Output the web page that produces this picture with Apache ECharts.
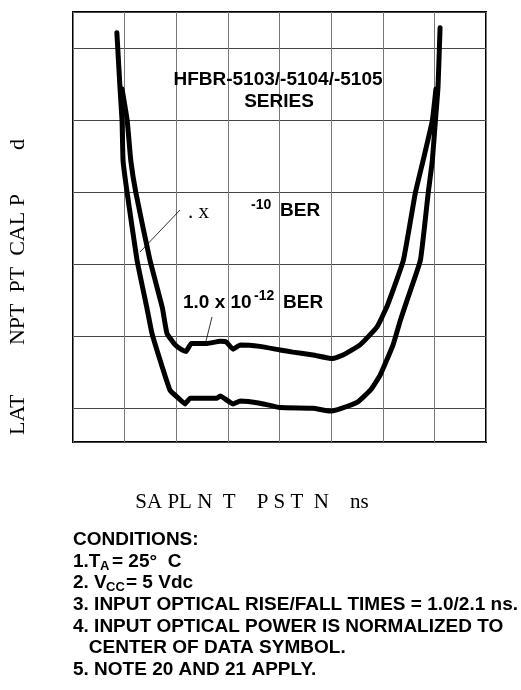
<!DOCTYPE html>
<html>
<head>
<meta charset="utf-8">
<title>HFBR-5103 sampling time</title>
<script src="https://cdn.jsdelivr.net/npm/echarts@6/dist/echarts.min.js"></script>
<style>
  html, body { margin: 0; padding: 0; background: #fff; }
  #chart { width: 521px; height: 690px; }
</style>
</head>
<body>
<div id="chart"></div>
<script>
// sampling time position (grid units), relative optical power (dB, grid units)
var ber10X = [0.85, 0.91, 0.95, 0.97, 1.05, 1.24, 1.43, 1.53, 1.73, 1.88, 2.04, 2.17, 2.27, 2.56, 2.79, 2.85, 3.10, 3.24, 3.62, 4.01, 4.65, 4.98, 5.17, 5.50, 5.76, 5.95, 6.20, 6.34, 6.47, 6.73, 6.88, 6.96, 7.02, 7.07, 7.11];
var ber10Y = [5.22, 4.46, 4.00, 3.44, 2.99, 2.06, 1.40, 1.04, 0.57, 0.25, 0.14, 0.06, 0.14, 0.14, 0.14, 0.17, 0.06, 0.10, 0.07, 0.01, 0.00, -0.04, -0.01, 0.08, 0.25, 0.46, 0.88, 1.22, 1.50, 2.06, 2.99, 3.44, 4.00, 4.46, 5.29];

var ber12X = [0.95, 1.05, 1.12, 1.22, 1.49, 1.73, 1.82, 1.98, 2.11, 2.19, 2.29, 2.60, 2.85, 2.97, 3.10, 3.24, 3.62, 4.01, 4.26, 4.65, 5.02, 5.23, 5.56, 5.89, 6.09, 6.40, 6.63, 6.78, 6.96, 7.03];
var ber12Y = [4.44, 4.00, 3.44, 2.99, 2.06, 1.40, 1.04, 0.88, 0.81, 0.79, 0.90, 0.90, 0.93, 0.92, 0.82, 0.88, 0.86, 0.81, 0.78, 0.74, 0.69, 0.74, 0.88, 1.13, 1.43, 2.06, 2.99, 3.44, 4.00, 4.44];

var xTitle = 'SA PL N  T    P S T  N    ns';
var yTitle = 'LAT         NPT  PT  CAL P        d';
var conditions = [
  'CONDITIONS:',
  '',
  '',
  '3. INPUT OPTICAL RISE/FALL TIMES = 1.0/2.1 ns.',
  '4. INPUT OPTICAL POWER IS NORMALIZED TO',
  '   CENTER OF DATA SYMBOL.',
  '5. NOTE 20 AND 21 APPLY.'
];

function pairs(xs, ys) {
  return xs.map(function (x, i) { return [x, ys[i]]; });
}

var chart = echarts.init(document.getElementById('chart'));

var sans = 'Liberation Sans, Arial, sans-serif';
var serif = 'Liberation Serif, Times New Roman, serif';
var bold = { fontFamily: sans, fontWeight: 'bold', fill: '#000' };

function txt(x, y, s, size, extra) {
  var style = Object.assign({ text: s, x: x, y: y, fontSize: size, verticalAlign: 'middle', align: 'left' }, bold, extra || {});
  return { type: 'text', style: style, z: 10 };
}

var graphics = [
  txt(278, 80, 'HFBR-5103/-5104/-5105', 19, { align: 'center' }),
  txt(279, 102, 'SERIES', 19, { align: 'center' }),
  txt(188, 212, '. x', 21, { fontFamily: serif, fontWeight: 'normal' }),
  txt(251, 205, '-10', 14),
  txt(280, 211, 'BER', 19),
  txt(183, 303, '1.0 x 10', 19),
  txt(254, 296, '-12', 14),
  txt(283, 303, 'BER', 19),
  { type: 'line', shape: { x1: 180, y1: 210, x2: 140, y2: 252 }, style: { stroke: '#000', lineWidth: 0.8 }, z: 10 },
  { type: 'line', shape: { x1: 212, y1: 317, x2: 206, y2: 341 }, style: { stroke: '#000', lineWidth: 0.8 }, z: 10 },
  txt(252, 502, xTitle, 21, { fontFamily: serif, fontWeight: 'normal', align: 'center' }),
  {
    type: 'text', x: 18, y: 287, rotation: Math.PI / 2, z: 10,
    style: { text: yTitle, fontFamily: serif, fontSize: 22, fill: '#000', align: 'center', verticalAlign: 'middle' }
  },
  // conditions block, subscripted lines
  txt(73, 562, '1.T', 19),
  txt(100, 566, 'A', 13),
  txt(112, 562, '= 25\u00b0  C', 19),
  txt(73, 583, '2. V', 19),
  txt(106, 587, 'CC', 13),
  txt(126, 583, '= 5 Vdc', 19)
];

var rowY = [540, 562, 583, 605, 627, 648, 670];
conditions.forEach(function (line, i) {
  if (line) graphics.push(txt(73, rowY[i], line, 19));
});

var option = {
  animation: false,
  backgroundColor: '#fff',
  grid: { left: 73, right: 35, top: 12, bottom: 248, show: true, borderColor: '#000', borderWidth: 2 },
  xAxis: {
    type: 'value', min: 0, max: 8, interval: 1,
    axisLine: { show: false }, axisTick: { show: false }, axisLabel: { show: false },
    splitLine: { show: true, lineStyle: { color: '#777', width: 1 } }
  },
  yAxis: {
    type: 'value', min: -0.47, max: 5.51, splitNumber: 6,
    axisLine: { show: false }, axisTick: { show: false }, axisLabel: { show: false },
    splitLine: { show: true, lineStyle: { color: '#444', width: 1 } }
  },
  series: [
    {
      name: '10-10 BER', type: 'line', data: pairs(ber10X, ber10Y),
      showSymbol: false, smooth: 0.12,
      lineStyle: { color: '#000', width: 5, cap: 'round', join: 'round' }
    },
    {
      name: '1.0 x 10-12 BER', type: 'line', data: pairs(ber12X, ber12Y),
      showSymbol: false, smooth: 0.12,
      lineStyle: { color: '#000', width: 5, cap: 'round', join: 'round' }
    }
  ],
  graphic: graphics
};

chart.setOption(option);
</script>
</body>
</html>
